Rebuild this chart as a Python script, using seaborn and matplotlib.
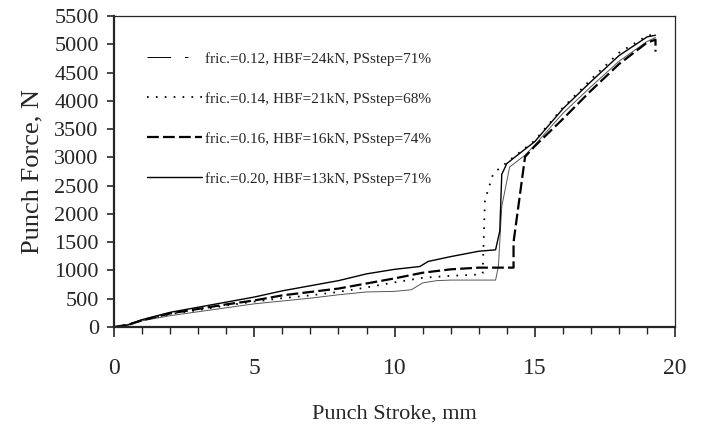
import numpy as np
import pandas as pd
import matplotlib
matplotlib.use('Agg')
import matplotlib.pyplot as plt
from matplotlib.lines import Line2D
from matplotlib.ticker import MultipleLocator
import seaborn as sns

# punch force vs. stroke
labels = ['fric.=0.12, HBF=24kN, PSstep=71%',
          'fric.=0.14, HBF=21kN, PSstep=68%',
          'fric.=0.16, HBF=16kN, PSstep=74%',
          'fric.=0.20, HBF=13kN, PSstep=71%']

x_012 = [0, 0.5, 1.0, 2.0, 3.0, 4.0, 5.0, 6.0, 7.0, 8.0, 9.0, 10.0, 10.6, 11.0, 11.5, 12.0,
         13.6, 13.7, 13.82, 14.1, 14.65, 15.0, 16.0, 17.0, 18.0, 19.0, 19.3]
y_012 = [0, 30, 110, 200, 270, 340, 410, 460, 510, 570, 620, 630, 660, 780, 820, 830,
         830, 1070, 2130, 2830, 3040, 3220, 3780, 4250, 4700, 5050, 5120]

x_014 = [0, 0.5, 1.0, 2.0, 3.0, 4.0, 5.0, 6.0, 7.0, 8.0, 9.0, 10.0, 11.0, 12.0, 13.1,
         13.14, 13.22, 13.52, 13.7, 14.1, 15.0, 16.0, 17.0, 18.0, 19.0, 19.2]
y_014 = [0, 40, 120, 230, 300, 380, 450, 510, 560, 620, 700, 790, 870, 905, 930,
         950, 2245, 2720, 2790, 2950, 3300, 3880, 4380, 4850, 5150, 5170]

x_016 = [0, 0.5, 1.0, 2.0, 3.0, 4.0, 5.0, 6.0, 7.0, 8.0, 9.0, 10.0, 11.0, 12.0, 13.0,
         14.24, 14.24, 14.65, 15.0, 16.0, 17.0, 18.0, 19.0, 19.3, 19.3]
y_016 = [0, 40, 120, 240, 320, 400, 470, 560, 620, 680, 770, 860, 960, 1020, 1050,
         1050, 1500, 3010, 3200, 3680, 4180, 4650, 5030, 5080, 4870]

x_020 = [0, 0.5, 1.0, 2.0, 3.0, 4.0, 5.0, 6.0, 7.0, 8.0, 9.0, 10.0, 10.9, 11.2, 12.0,
         13.0, 13.6, 13.75, 13.82, 14.0, 14.25, 15.0, 16.0, 17.0, 18.0, 19.0, 19.3]
y_020 = [0, 40, 130, 260, 350, 440, 530, 640, 730, 820, 940, 1020, 1070, 1160, 1245,
         1340, 1365, 1700, 2700, 2890, 2990, 3280, 3860, 4340, 4800, 5130, 5160]

frames = []
for lab, xs, ys in zip(labels, [x_012, x_014, x_016, x_020], [y_012, y_014, y_016, y_020]):
    frames.append(pd.DataFrame({'stroke': xs, 'force': ys, 'case': lab}))
df = pd.concat(frames, ignore_index=True)

sns.set_style('ticks')
plt.rcParams['font.family'] = ['Liberation Serif', 'DejaVu Serif']
plt.rcParams['lines.scale_dashes'] = False

# (color, width, dash pattern) per case; legend uses its own pattern for the thin line
styles = {
    labels[0]: ('#555555', 0.7, '-'),
    labels[1]: ('black', 1.3, (0, (1.2, 5.2))),
    labels[2]: ('black', 1.6, (0, (8.5, 3.0))),
    labels[3]: ('black', 1.0, '-'),
}
legend_ls = {labels[0]: (0, (17, 10, 2.5, 20))}

fig = plt.figure(figsize=(7.04, 4.30), dpi=100)
ax = fig.add_axes([0.162, 0.2395, 0.797, 0.7233])

for lab in labels:
    sub = df[df['case'] == lab]
    c, lw, ls = styles[lab]
    sns.lineplot(data=sub, x='stroke', y='force', sort=False, estimator=None,
                 color=c, lw=lw, linestyle=ls, ax=ax)

ax.set_xlim(0, 20)
ax.set_ylim(0, 5500)
ax.xaxis.set_major_locator(MultipleLocator(5))
ax.xaxis.set_minor_locator(MultipleLocator(1))
ax.yaxis.set_major_locator(MultipleLocator(500))

ax.tick_params(axis='x', which='major', length=7, width=1.2, labelsize=17, pad=15, direction='out')
ax.tick_params(axis='x', which='minor', length=5, width=1.0, direction='out')
ax.tick_params(axis='y', which='major', length=5, width=1.2, labelsize=16, pad=6, direction='out')

for side in ['left', 'bottom']:
    ax.spines[side].set_linewidth(1.6)
for side in ['top', 'right']:
    ax.spines[side].set_visible(True)
    ax.spines[side].set_linewidth(0.9)

ax.set_xlabel('Punch Stroke, mm', fontsize=16, labelpad=19)
ax.set_ylabel('Punch Force, N', fontsize=19, labelpad=8)

handles = []
for lab in labels:
    c, lw, ls = styles[lab]
    handles.append(Line2D([], [], color='black' if lab == labels[0] else c,
                          lw=lw, linestyle=legend_ls.get(lab, ls)))
ax.legend(handles, labels, loc='upper left', bbox_to_anchor=(0.058, 0.885),
          frameon=False, fontsize=11, handlelength=3.6, handletextpad=0.25,
          labelspacing=1.72, borderpad=0, borderaxespad=0)

fig.savefig('out.png', dpi=100)
